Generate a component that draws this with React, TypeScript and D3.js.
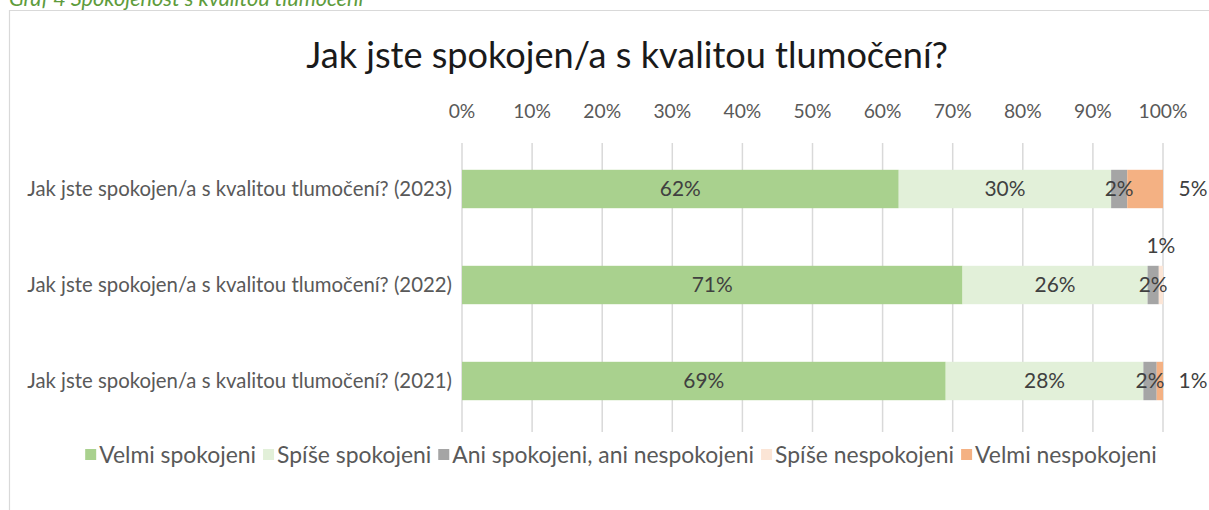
import React, { useMemo } from "react";
import * as d3 from "d3";

const captionText = "Graf 4 Spokojenost s kvalitou tlumočení";
const title = "Jak jste spokojen/a s kvalitou tlumočení?";
const categories = [
  "Jak jste spokojen/a s kvalitou tlumočení? (2023)",
  "Jak jste spokojen/a s kvalitou tlumočení? (2022)",
  "Jak jste spokojen/a s kvalitou tlumočení? (2021)",
];
const seriesNames = [
  "Velmi spokojeni",
  "Spíše spokojeni",
  "Ani spokojeni, ani nespokojeni",
  "Spíše nespokojeni",
  "Velmi nespokojeni",
];
const seriesColors = ["#A9D18E", "#E2F0D9", "#A5A5A5", "#FBE5D6", "#F4B183"];
// label placement per series (as in the original chart)
const labelPlacement = ["inside", "inside", "inside", "above", "right"];

const velmiSpokojeni = [62.3, 71.4, 69.0];
const spiseSpokojeni = [30.3, 26.4, 28.2];
const aniAni = [2.3, 1.6, 1.9];
const spiseNespokojeni = [0, 0.6, 0];
const velmiNespokojeni = [5.1, 0, 0.9];
const seriesValues = [velmiSpokojeni, spiseSpokojeni, aniAni, spiseNespokojeni, velmiNespokojeni];

const xTicks = [0, 10, 20, 30, 40, 50, 60, 70, 80, 90, 100];

const FONT = "Lato, 'Open Sans', sans-serif";

const W = 1209;
const H = 510;

function makeMeasure() {
  const c = document.createElement("canvas");
  const ctx = c.getContext("2d")!;
  return (text: string, size: number, style = "") => {
    ctx.font = `${style} ${size}px ${FONT}`;
    return ctx.measureText(text).width;
  };
}

export default function App() {
  const measure = useMemo(() => makeMeasure(), []);
  const fit = (text: string, target: number, style = "") => (100 * target) / measure(text, 100, style);

  const titleSize = fit(title, 642);
  const catSize = fit(categories[0], 425);
  const tickSize = fit("100%", 49);
  const labelSize = fit("62%", 41);
  const legendSize = fit(seriesNames[0], 157);
  const captionSize = fit(captionText, 355, "italic");

  const x = d3.scaleLinear().domain([0, 100]).range([462, 1163]);
  const y = d3
    .scaleBand<string>()
    .domain(categories)
    .range([141, 429])
    .paddingInner(0.6)
    .paddingOuter(0.3);

  const rows = categories.map((c, i) => {
    const vals = seriesValues.map((s) => s[i]);
    const stack = d3.cumsum(vals);
    return vals.map((v, k) => ({ cat: c, k, v, x0: k === 0 ? 0 : stack[k - 1], x1: stack[k] }));
  });

  // legend layout
  const sq = 11;
  const sqGap = 3;
  const itemGap = 7;
  const widths = seriesNames.map((n) => sq + sqGap + measure(n, legendSize));
  const totalW = d3.sum(widths) + itemGap * (seriesNames.length - 1);
  const legendStart = 621 - totalW / 2;
  const legendX = widths.map((_, i) => legendStart + d3.sum(widths.slice(0, i)) + itemGap * i);
  const legendY = 455;

  return (
    <svg
      width={W}
      height={H}
      style={{ position: "absolute", left: 0, top: 0, background: "#fff" }}
      fontFamily={FONT}
    >
      <rect x={0} y={0} width={W} height={H} fill="#fff" />
      <text x={9} y={6} fontSize={captionSize} fontStyle="italic" fill="#5E9C3C">
        {captionText}
      </text>
      <path d={`M9.5,${H + 2}V10.5H${W + 2}`} fill="none" stroke="#D9D9D9" strokeWidth={1.2} />

      <text x={627} y={68} fontSize={titleSize} fill="#1a1a1a" textAnchor="middle">
        {title}
      </text>

      {xTicks.map((t) => (
        <g key={t}>
          <line x1={x(t)} x2={x(t)} y1={143} y2={432} stroke="#D9D9D9" strokeWidth={1.5} />
          <text x={x(t)} y={118} fontSize={tickSize} fill="#595959" textAnchor="middle">
            {t}%
          </text>
        </g>
      ))}

      {categories.map((c) => (
        <text
          key={c}
          x={452}
          y={y(c)! + y.bandwidth() / 2}
          dy="0.35em"
          fontSize={catSize}
          fill="#595959"
          textAnchor="end"
        >
          {c}
        </text>
      ))}

      {rows.map((segs, i) =>
        segs.map((s) =>
          s.v > 0 ? (
            <rect
              key={`${i}-${s.k}`}
              x={x(s.x0)}
              y={y(s.cat)}
              width={x(s.x1) - x(s.x0)}
              height={y.bandwidth()}
              fill={seriesColors[s.k]}
            />
          ) : null
        )
      )}

      {rows.map((segs, i) =>
        segs.map((s) => {
          if (s.v <= 0) return null;
          const cy = y(s.cat)! + y.bandwidth() / 2;
          const place = labelPlacement[s.k];
          let lx = (x(s.x0) + x(s.x1)) / 2;
          let ly = cy;
          if (place === "right") {
            lx = x(100) + 30;
          } else if (place === "above") {
            ly = y(s.cat)! - 20;
          }
          return (
            <text
              key={`l${i}-${s.k}`}
              x={lx}
              y={ly}
              dy="0.35em"
              fontSize={labelSize}
              fill="#404040"
              textAnchor="middle"
            >
              {`${Math.round(s.v)}%`}
            </text>
          );
        })
      )}

      {seriesNames.map((n, i) => (
        <g key={n}>
          <rect x={legendX[i]} y={legendY - 6} width={sq} height={sq} fill={seriesColors[i]} />
          <text
            x={legendX[i] + sq + sqGap}
            y={legendY}
            dy="0.35em"
            fontSize={legendSize}
            fill="#595959"
          >
            {n}
          </text>
        </g>
      ))}
    </svg>
  );
}
